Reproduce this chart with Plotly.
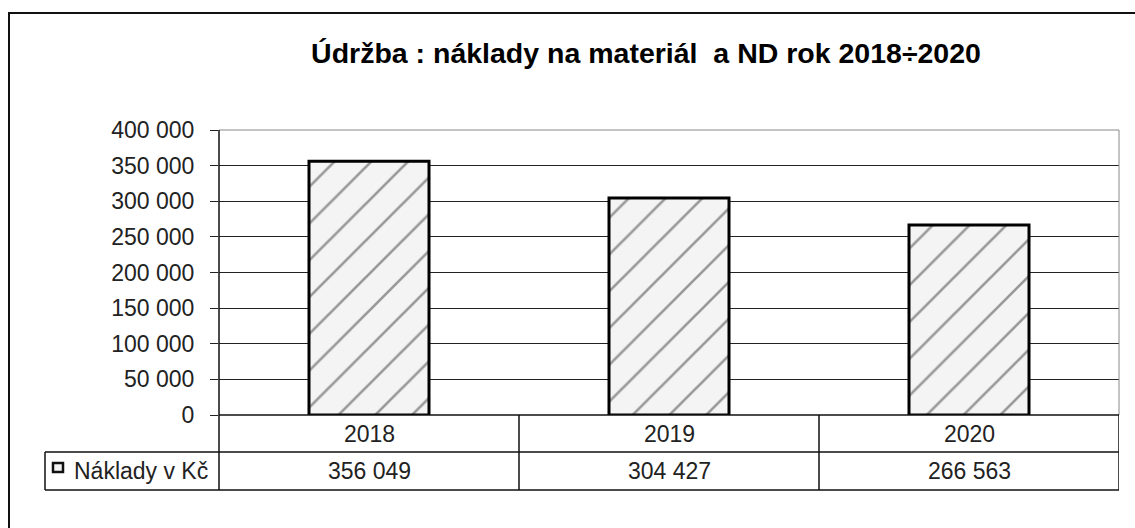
import plotly.graph_objects as go

# ---- data ----
years = ["2018", "2019", "2020"]
costs = [356049, 304427, 266563]
series_name = "Náklady v Kč"
title_text = "Údržba : náklady na materiál  a ND rok 2018÷2020"
y_ticks = [0, 50000, 100000, 150000, 200000, 250000, 300000, 350000, 400000]

FONT = "Liberation Sans, Arial, sans-serif"
W, H = 1135, 528
L, R, T, B = 219, 16, 130, 113
PW, PH = W - L - R, H - T - B


def px_x(px):
    return (px - L) / PW


def px_y(py):
    return (H - B - py) / PH


def fmt(v):
    return f"{v:,}".replace(",", " ")


fig = go.Figure()
fig.add_trace(go.Bar(
    x=years, y=costs, name=series_name, width=0.4,
    marker=dict(
        color="#f4f4f4",
        line=dict(color="black", width=3),
        pattern=dict(shape="/", fgcolor="#3a3a3a", bgcolor="#f4f4f4",
                     size=26, solidity=0.1),
    ),
    showlegend=False,
))

fig.update_layout(
    width=W, height=H,
    margin=dict(l=L, r=R, t=T, b=B),
    paper_bgcolor="white", plot_bgcolor="white",
    separators=", ",
    font=dict(family=FONT, size=22, color="#222"),
    title=dict(text=title_text, x=646 / W, xanchor="center", xref="container",
               y=1 - 53 / H, yanchor="middle", yref="container",
               font=dict(family=FONT, size=28.5, color="black", weight="bold")),
)
fig.update_xaxes(type="category", range=[-0.5, len(years) - 0.5],
                 showticklabels=False, showgrid=False, ticks="",
                 showline=False, zeroline=False)
fig.update_yaxes(range=[0, 400000], tickvals=y_ticks,
                 ticktext=[fmt(v) for v in y_ticks],
                 showgrid=True, gridcolor="#222", gridwidth=1,
                 ticks="outside", ticklen=8, tickcolor="#222", tickwidth=1,
                 ticklabelstandoff=11,
                 showline=False, zeroline=False,
                 tickfont=dict(family=FONT, size=23, color="#222"))

shapes = []
# outer chart border
shapes.append(dict(type="rect", xref="paper", yref="paper",
                   x0=px_x(9), x1=px_x(1145), y0=px_y(540), y1=px_y(13),
                   line=dict(color="#111", width=2), layer="below"))
# top and right plot border (gray)
shapes.append(dict(type="line", xref="paper", yref="paper", x0=0, x1=1, y0=1, y1=1,
                   line=dict(color="#888", width=1)))
shapes.append(dict(type="line", xref="paper", yref="paper", x0=1, x1=1, y0=0, y1=1,
                   line=dict(color="#888", width=1)))
# y axis line through table
shapes.append(dict(type="line", xref="paper", yref="paper", x0=0, x1=0,
                   y0=px_y(490), y1=1, line=dict(color="#111", width=1.5)))
# zero line
shapes.append(dict(type="line", xref="paper", yref="paper", x0=0, x1=1,
                   y0=0, y1=0, line=dict(color="#111", width=1.5)))
# table row lines
for py in (452, 490):
    shapes.append(dict(type="line", xref="paper", yref="paper", x0=px_x(45), x1=1,
                       y0=px_y(py), y1=px_y(py), line=dict(color="#111", width=1.5)))
# legend cell left border
shapes.append(dict(type="line", xref="paper", yref="paper", x0=px_x(45), x1=px_x(45),
                   y0=px_y(490), y1=px_y(452), line=dict(color="#111", width=1.5)))
# column separators (category boundaries)
for i in range(1, len(years) + 1):
    shapes.append(dict(type="line", xref="x", yref="paper", x0=i - 0.5, x1=i - 0.5,
                       y0=px_y(490), y1=0, line=dict(color="#111", width=1.5)))
# legend key
shapes.append(dict(type="rect", xref="paper", yref="paper",
                   x0=px_x(53), x1=px_x(63), y0=px_y(472), y1=px_y(463),
                   fillcolor="#f4f4f4", line=dict(color="#111", width=2.5)))

annotations = []
for i, (yr, v) in enumerate(zip(years, costs)):
    annotations.append(dict(x=i, xref="x", y=px_y(434), yref="paper",
                            text=yr, showarrow=False, yanchor="middle",
                            font=dict(family=FONT, size=23, color="#222")))
    annotations.append(dict(x=i, xref="x", y=px_y(471), yref="paper",
                            text=fmt(v), showarrow=False, yanchor="middle",
                            font=dict(family=FONT, size=23, color="#222")))
annotations.append(dict(x=px_x(72), xref="paper", y=px_y(471), yref="paper",
                        text=series_name, showarrow=False, xanchor="left",
                        yanchor="middle",
                        font=dict(family=FONT, size=23, color="#222")))

fig.update_layout(shapes=shapes, annotations=annotations)
fig.write_html("out.html", config={"displayModeBar": False},
               post_script="document.body.style.margin='0';")
